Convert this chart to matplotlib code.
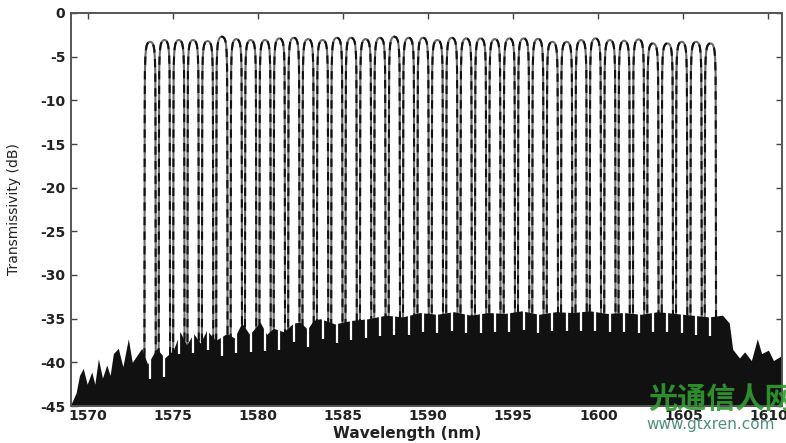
import numpy as np
import matplotlib
matplotlib.use('Agg')
import matplotlib.pyplot as plt

plt.rcParams['axes.unicode_minus'] = False

# channel centre wavelengths (nm)
centers = [1573.65, 1574.49, 1575.34, 1576.18, 1577.03, 1577.87, 1578.72, 1579.56,
           1580.41, 1581.25, 1582.10, 1582.94, 1583.79, 1584.63, 1585.47, 1586.32,
           1587.16, 1588.01, 1588.85, 1589.70, 1590.54, 1591.39, 1592.23, 1593.08,
           1593.92, 1594.77, 1595.61, 1596.45, 1597.30, 1598.14, 1598.99, 1599.83,
           1600.68, 1601.52, 1602.37, 1603.21, 1604.06, 1604.90, 1605.75, 1606.59]

# peak transmissivity of each channel (dB)
peaks = [-3.29, -3.09, -3.09, -3.09, -3.21, -2.71, -2.98, -3.09, -3.09, -2.90,
         -2.83, -2.98, -3.09, -2.83, -2.83, -2.98, -2.83, -2.71, -2.83, -2.83,
         -3.09, -2.83, -2.90, -2.90, -2.98, -2.90, -2.90, -2.95, -3.29, -3.29,
         -3.09, -2.90, -3.09, -3.17, -3.01, -3.47, -3.47, -3.29, -3.29, -3.47]

# passband shape relative to the channel centre (nm offset, dB below peak)
tpl_off = [-0.35, -0.335, -0.325, -0.315, -0.305, -0.28, -0.25, -0.21, -0.15, -0.08, 0.0,
           0.08, 0.15, 0.21, 0.25, 0.28, 0.305, 0.315, 0.325, 0.335, 0.35]
tpl_db = [-50, -38, -20, -8, -3.5, -1.8, -1.0, -0.5, -0.2, -0.05, 0.0,
          -0.05, -0.2, -0.5, -1.0, -1.8, -3.5, -8, -20, -38, -50]

# upper edge of the crosstalk floor
floor_wl = [1569.0, 1569.3, 1569.5, 1569.72, 1569.95, 1570.22, 1570.4, 1570.61, 1570.85,
            1571.1, 1571.3, 1571.49, 1571.78, 1572.05, 1572.37, 1572.6, 1573.16, 1573.5,
            1574.04, 1574.5, 1575.02, 1575.41, 1575.8, 1576.2, 1576.6, 1576.98, 1577.5,
            1578.16, 1578.6, 1579.04, 1579.5, 1580.12, 1580.5, 1580.9, 1581.5, 1582.08,
            1582.47, 1582.9, 1583.25, 1583.65, 1584.5, 1585.5, 1586.5, 1587.5, 1588.5,
            1589.5, 1590.5, 1591.5, 1592.5, 1593.5, 1594.5, 1595.5, 1596.5, 1597.5,
            1598.5, 1599.5, 1600.5, 1601.5, 1602.5, 1603.5, 1604.5, 1605.5, 1606.5,
            1607.3, 1607.7, 1607.9, 1608.3, 1608.6, 1609.0, 1609.35, 1609.6, 1610.0,
            1610.3, 1610.8]
floor_db = [-44.8, -43.5, -41.5, -40.7, -42.5, -41.1, -42.5, -39.6, -41.8,
            -40.3, -41.5, -39.0, -38.4, -40.5, -37.3, -40.0, -38.4, -40.2,
            -38.4, -39.5, -38.6, -36.5, -38.0, -36.7, -37.8, -36.3, -37.5,
            -36.7, -37.2, -35.5, -36.8, -35.4, -36.8, -36.1, -36.5, -35.5,
            -35.4, -36.2, -35.2, -35.0, -35.6, -35.2, -35.0, -34.6, -34.8,
            -34.3, -34.5, -34.2, -34.6, -34.3, -34.4, -34.1, -34.5, -34.2,
            -34.3, -34.1, -34.4, -34.3, -34.5, -34.2, -34.4, -34.6, -34.8,
            -34.6, -35.5, -38.5, -39.5, -38.8, -39.8, -37.3, -39.0, -38.6,
            -39.8, -39.2]

xticks = [1570, 1575, 1580, 1585, 1590, 1595, 1600, 1605, 1610]
yticks = [0, -5, -10, -15, -20, -25, -30, -35, -40, -45]

fig = plt.figure(figsize=(7.86, 4.43), dpi=100)
ax = fig.add_axes([71 / 786, 1 - 406 / 443, 711 / 786, 393 / 443])

# channels (drawn under the floor)
off = np.array(tpl_off)
rel = np.array(tpl_db)
for c, p in zip(centers, peaks):
    ax.plot(c + off, p + rel, color='#6a6a6a', lw=1.5, zorder=2)
    ax.plot(c + off, p + rel, color='#111111', lw=1.5, zorder=3, dashes=(4, 3))

# crosstalk floor
ax.fill_between(floor_wl, -46, floor_db, color='#111111', lw=0, zorder=4)

# white slits of the passbands going into the floor
for c in centers:
    top = np.interp(c, floor_wl, floor_db)
    ax.plot([c, c], [top + 0.3, top - 2.2], color='white', lw=1.6, zorder=5,
            solid_capstyle='butt')

ax.set_xlim(1569, 1610.8)
ax.set_ylim(-45, 0)
ax.set_xticks(xticks)
ax.set_yticks(yticks)
ax.tick_params(direction='in', length=4, width=1, colors='#444444', top=True, right=True)
ax.tick_params(axis='x', pad=2)
ax.tick_params(axis='y', pad=4)
for lab in ax.get_xticklabels() + ax.get_yticklabels():
    lab.set_fontsize(10)
    lab.set_fontweight('bold')
    lab.set_color('#222222')
for sp in ax.spines.values():
    sp.set_color('#555555')
    sp.set_linewidth(1.4)
    sp.set_zorder(6)

ax.set_xlabel('Wavelength (nm)', fontsize=11, fontweight='bold', color='#222222')
ax.xaxis.set_label_coords(0.473, -0.052)
ax.set_ylabel('Transmissivity (dB)', fontsize=10, color='#222222')
ax.yaxis.set_label_coords(-0.07, 0.5)

# site watermark
fig.text(648 / 786, 1 - 399 / 443, '光通信人网', fontsize=21, color='#2f9e2f',
         family=['Noto Sans CJK SC', 'DejaVu Sans'], weight='bold', ha='left',
         va='center', alpha=0.9)
fig.text(646 / 786, 1 - 425 / 443, 'www.gtxren.com', fontsize=11, color='#4f8f7f',
         ha='left', va='center')

fig.savefig('out.png', dpi=100)
